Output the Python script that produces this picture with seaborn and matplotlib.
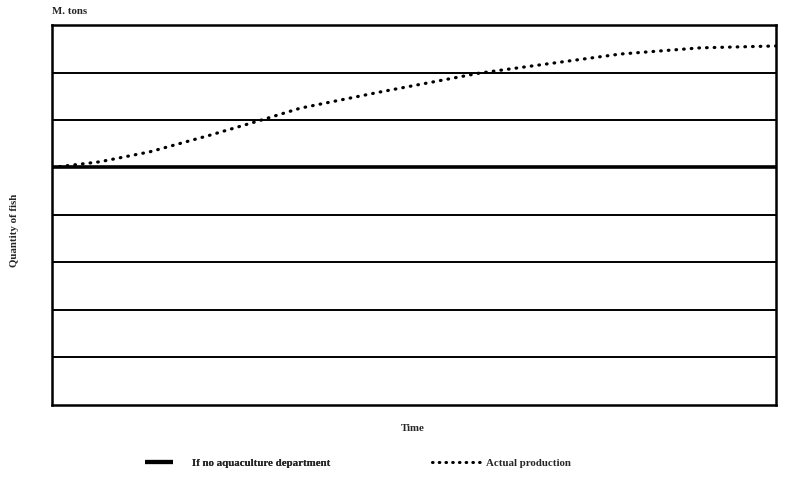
import numpy as np
import pandas as pd
import seaborn as sns
import matplotlib.pyplot as plt
from matplotlib.lines import Line2D

# data (time in arbitrary units, quantity in grid bands)
time_pts = [0.0, 0.66, 1.35, 2.18, 2.85, 3.43, 4.53, 5.91, 7.85, 8.95, 10.0]
actual_qty = [5.0, 5.12, 5.33, 5.68, 5.98, 6.25, 6.59, 6.99, 7.39, 7.52, 7.56]
no_aqua_qty = [5.0] * len(time_pts)
grid_levels = [1, 2, 3, 4, 6, 7]

df = pd.DataFrame({'time': time_pts, 'actual': actual_qty, 'no_aqua': no_aqua_qty})

sns.set_style('white')
plt.rcParams['font.family'] = ['Liberation Serif', 'DejaVu Serif']
plt.rcParams['font.weight'] = 'bold'

fig = plt.figure(figsize=(8, 4.82), dpi=100)
ax = fig.add_axes([0.065, 0.16, 0.905, 0.788])

for g in grid_levels:
    ax.axhline(g, color='black', lw=1.4, zorder=1)

sns.lineplot(data=df, x='time', y='no_aqua', ax=ax, color='black', lw=2.6, zorder=2)
sns.lineplot(data=df, x='time', y='actual', ax=ax, color='black', lw=2.3,
             dashes=False, zorder=3)
dot_line = ax.lines[-1]
dot_line.set_linestyle((0, (0.2, 2.2)))
dot_line.set_dash_capstyle('round')

ax.set_xlim(0, 10)
ax.set_ylim(0, 8)
ax.set_xticks([])
ax.set_yticks([])
ax.set_xlabel('')
ax.set_ylabel('')
for s in ax.spines.values():
    s.set_color('black')
    s.set_linewidth(1.8)

fs = 7.8
fig.text(0.065, 0.977, 'M. tons', fontsize=fs, ha='left', va='center')
fig.text(0.018, 0.523, 'Quantity of fish', fontsize=fs, rotation=90, ha='center', va='center')
fig.text(0.516, 0.112, 'Time', fontsize=fs, ha='center', va='center')

# two separate legends so that the handle lengths can differ
h1 = Line2D([], [], color='black', lw=3, solid_capstyle='butt')
h2 = Line2D([], [], color='black', lw=2.2, linestyle=(0, (0.2, 2.0)), dash_capstyle='round')
leg1 = fig.legend([h1], ['If no aquaculture department'], loc='center left',
                  bbox_to_anchor=(145 / 800, 1 - 463 / 482), frameon=False, fontsize=fs,
                  handlelength=2.6, handletextpad=1.7, borderpad=0, borderaxespad=0)
fig.add_artist(leg1)
fig.legend([h2], ['Actual production'], loc='center left',
           bbox_to_anchor=(432 / 800, 1 - 463 / 482), frameon=False, fontsize=fs,
           handlelength=4.4, handletextpad=0.6, borderpad=0, borderaxespad=0)

fig.savefig('out.png', dpi=100, facecolor='white')
